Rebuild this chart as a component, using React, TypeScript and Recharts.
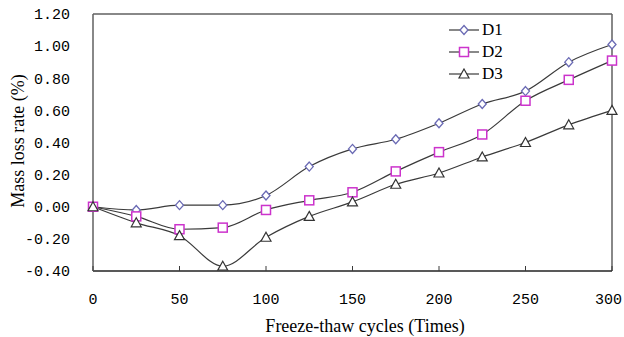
import React from "react";
import { Line, LineChart, ReferenceLine, XAxis, YAxis } from "recharts";

const cycles = [0, 25, 50, 75, 100, 125, 150, 175, 200, 225, 250, 275, 300];
const d1 = [0, -0.02, 0.01, 0.01, 0.07, 0.25, 0.36, 0.42, 0.52, 0.64, 0.72, 0.9, 1.01];
const d2 = [0, -0.06, -0.14, -0.13, -0.02, 0.04, 0.09, 0.22, 0.34, 0.45, 0.66, 0.79, 0.91];
const d3 = [0, -0.1, -0.18, -0.37, -0.19, -0.06, 0.03, 0.14, 0.21, 0.31, 0.4, 0.51, 0.6];
const series = ["D1", "D2", "D3"] as const;
const xTicks = [0, 50, 100, 150, 200, 250, 300];
const yTicks = [-0.4, -0.2, 0, 0.2, 0.4, 0.6, 0.8, 1.0, 1.2];

const data = cycles.map((c, i) => ({ c, D1: d1[i], D2: d2[i], D3: d3[i] }));

const LINE = "#3a3a3a";
const BOX = "#606060";
const TICK_FONT = "'Liberation Mono', monospace";
const TITLE_FONT = "'Liberation Serif', serif";

const MARK = {
  D1: { shape: "diamond", color: "#6a6ab4" },
  D2: { shape: "square", color: "#cc33cc" },
  D3: { shape: "triangle", color: "#333333" },
} as const;

type Shape = "diamond" | "square" | "triangle";

function Marker({ cx, cy, shape, color }: { cx: number; cy: number; shape: Shape; color: string }) {
  if (shape === "diamond") {
    return (
      <polygon
        points={`${cx},${cy - 4.5} ${cx + 4},${cy} ${cx},${cy + 4.5} ${cx - 4},${cy}`}
        fill="#fff"
        stroke={color}
        strokeWidth={1.3}
      />
    );
  }
  if (shape === "square") {
    return <rect x={cx - 4.5} y={cy - 4.5} width={9} height={9} fill="#fff" stroke={color} strokeWidth={1.5} />;
  }
  return (
    <polygon
      points={`${cx},${cy - 5} ${cx + 5},${cy + 4} ${cx - 5},${cy + 4}`}
      fill="#fff"
      stroke={color}
      strokeWidth={1.2}
    />
  );
}

const dotFor = (name: keyof typeof MARK) => (props: any) => {
  const { cx, cy, index } = props;
  if (cx == null || cy == null) return <g key={`${name}-${index}`} />;
  return (
    <g key={`${name}-${index}`}>
      <Marker cx={cx} cy={cy} shape={MARK[name].shape} color={MARK[name].color} />
    </g>
  );
};

function XTick({ x, y, payload, index }: any) {
  // last label hangs off the right edge in the source; pull it in so it stays whole
  const last = index === xTicks.length - 1;
  return (
    <g>
      <line x1={x} x2={x} y1={y} y2={y - 5} stroke={LINE} />
      <text
        x={last ? x + 10 : x}
        y={y + 29}
        textAnchor={last ? "end" : "middle"}
        dominantBaseline="central"
        fontFamily={TICK_FONT}
        fontSize={15}
        fill="#000"
      >
        {payload.value}
      </text>
    </g>
  );
}

// legend sits inside the plot box, so keep it out of recharts' layout
function LegendBox() {
  return (
    <div style={{ position: "absolute", left: 448, top: 19, display: "flex", flexDirection: "column" }}>
      {series.map((name) => {
        const m = MARK[name];
        return (
          <div key={name} style={{ display: "flex", alignItems: "center", height: 22 }}>
            <svg width={32} height={12}>
              <line x1={1} x2={31} y1={6} y2={6} stroke={LINE} strokeWidth={1.2} />
              <Marker cx={16} cy={6} shape={m.shape} color={m.color} />
            </svg>
            <span style={{ fontFamily: TITLE_FONT, fontSize: 17, color: "#000", marginLeft: 2 }}>{name}</span>
          </div>
        );
      })}
    </div>
  );
}

export default function App() {
  return (
    <div style={{ position: "absolute", left: 0, top: 0, width: 624, height: 337, background: "#fff" }}>
      <LineChart width={624} height={337} data={data} margin={{ top: 14, right: 12, bottom: 0, left: 0 }}>
        <XAxis
          dataKey="c"
          type="number"
          domain={[0, 300]}
          ticks={xTicks}
          height={66}
          tickLine={false}
          tickSize={0}
          tickMargin={0}
          tick={<XTick />}
          axisLine={{ stroke: "#222", strokeWidth: 1.5 }}
        />
        <YAxis
          type="number"
          domain={[-0.4, 1.2]}
          ticks={yTicks}
          width={93}
          tickLine={false}
          tickSize={0}
          tickMargin={23}
          tickFormatter={(v: number) => v.toFixed(2)}
          tick={{ fontFamily: TICK_FONT, fontSize: 15, fill: "#000" }}
          axisLine={{ stroke: BOX, strokeWidth: 1.5 }}
        />
        <ReferenceLine y={1.2} stroke={BOX} strokeWidth={1.5} />
        <ReferenceLine x={300} stroke={BOX} strokeWidth={1.5} />
        {series.map((k) => (
          <Line
            key={k}
            dataKey={k}
            type="monotone"
            stroke={LINE}
            strokeWidth={1.2}
            dot={dotFor(k)}
            activeDot={false}
            isAnimationActive={false}
          />
        ))}
      </LineChart>
      <LegendBox />
      <div
        style={{
          position: "absolute",
          left: 365,
          top: 326,
          transform: "translate(-50%, -50%)",
          whiteSpace: "nowrap",
          fontFamily: TITLE_FONT,
          fontSize: 18,
          color: "#000",
        }}
      >
        Freeze-thaw cycles (Times)
      </div>
      <div
        style={{
          position: "absolute",
          left: 18,
          top: 141,
          transform: "translate(-50%, -50%) rotate(-90deg)",
          whiteSpace: "nowrap",
          fontFamily: TITLE_FONT,
          fontSize: 18,
          color: "#000",
        }}
      >
        Mass loss rate (%)
      </div>
    </div>
  );
}
